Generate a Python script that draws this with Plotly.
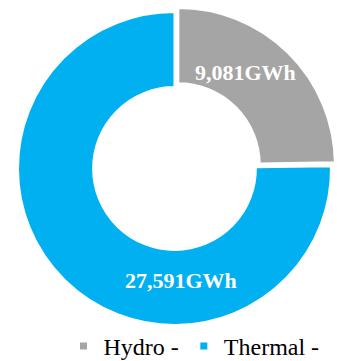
import plotly.graph_objects as go

categories = ["Hydro", "Thermal"]
values_gwh = [9081, 27591]
colors = ["#A5A5A5", "#00B0F0"]
legend_labels = ["Hydro -", "Thermal -"]
pulls = [0.035, 0]

W, H = 337, 361
cx, cy, R = 174.5, 168.5, 156.5
box = 2 * R * (1 + max(pulls))

fig = go.Figure()
fig.add_trace(go.Pie(
    labels=categories,
    values=values_gwh,
    marker=dict(colors=colors, line=dict(color="white", width=2)),
    hole=0.52,
    sort=False,
    direction="clockwise",
    rotation=0,
    pull=pulls,
    textinfo="none",
    showlegend=False,
    domain=dict(x=[(cx - box / 2) / W, (cx + box / 2) / W],
                y=[1 - (cy + box / 2) / H, 1 - (cy - box / 2) / H]),
))

for lab, col in zip(legend_labels, colors):
    fig.add_trace(go.Scatter(
        x=[None], y=[None], mode="markers", name=lab,
        marker=dict(symbol="square", size=7, color=col),
    ))

label_pos = [(245.5, 72.5), (181.3, 280.0)]
for v, (px, py) in zip(values_gwh, label_pos):
    fig.add_annotation(
        x=px / W, y=1 - py / H, xref="paper", yref="paper",
        text=f"<b>{v:,}GWh</b>", showarrow=False,
        xanchor="center", yanchor="middle",
        font=dict(family="Liberation Serif, Times New Roman, serif", size=22, color="white"),
    )

fig.update_layout(
    width=W, height=H,
    margin=dict(l=0, r=0, t=0, b=0, autoexpand=False),
    paper_bgcolor="white", plot_bgcolor="white",
    xaxis=dict(visible=False), yaxis=dict(visible=False),
    legend=dict(
        orientation="h", x=63.5 / W, y=1 - 346.5 / H,
        xanchor="left", yanchor="middle",
        font=dict(family="Liberation Serif, Times New Roman, serif", size=24, color="black"),
        bgcolor="rgba(0,0,0,0)",
    ),
)

fig.write_html("out.html")
